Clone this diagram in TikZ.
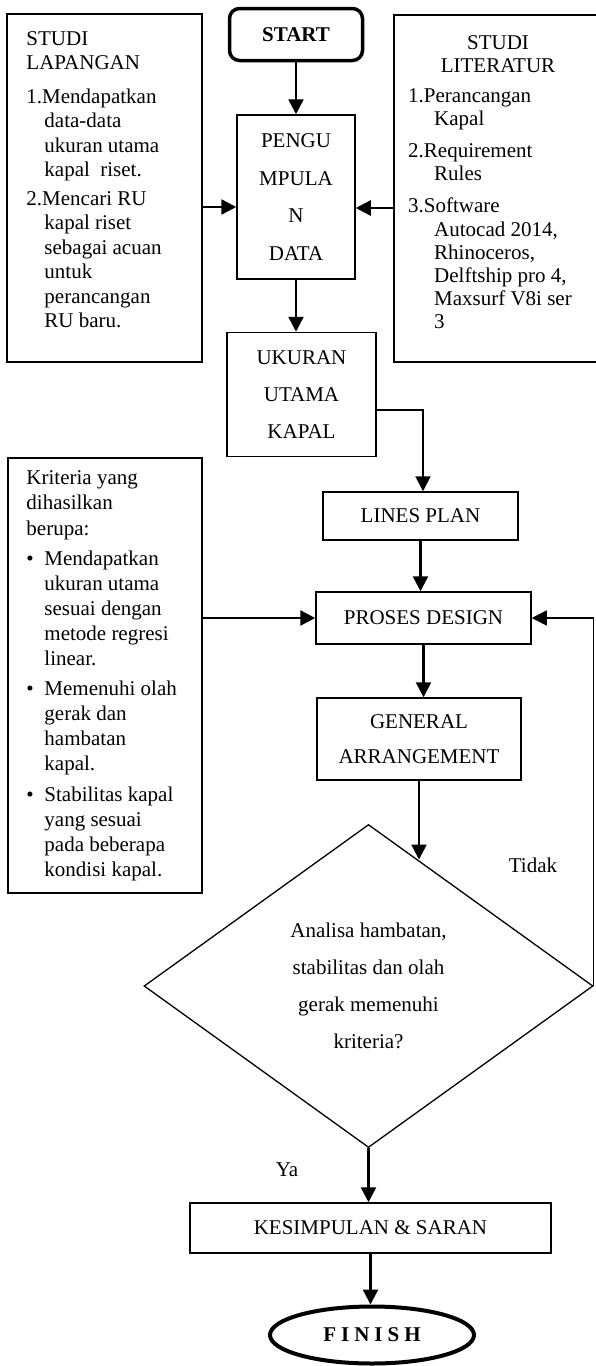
\documentclass[tikz,border=0pt]{standalone}
\usepackage{fontspec}
\setmainfont{Liberation Serif}
\usepackage{tikz}
\usetikzlibrary{positioning,calc,shapes.geometric,arrows.meta}
\newcommand{\indt}{\hspace*{18pt}}
\newcommand{\indl}{\hspace*{26pt}}
\newcommand{\bul}{\makebox[18pt][l]{\textbullet}}

\begin{document}
\begin{tikzpicture}[x=1pt,y=-1pt,font=\fontsize{21}{25}\selectfont]
	\tikzstyle{box}=[draw,line width=1.5pt,inner sep=0pt,align=center]
	\tikzstyle{txt}=[inner sep=0pt,align=left,anchor=north west]
	\tikzstyle{arr}=[-{Triangle[length=15pt,width=15pt]},line width=2.5pt]
	\useasboundingbox (0,0) rectangle (595,1366);
		\node[box,rounded corners=10pt,line width=3.5pt,minimum width=133pt,minimum height=52pt,font=\fontsize{21}{25}\selectfont\bfseries] (start) at (296,34.5) {START};
		\node[box,minimum width=118pt,minimum height=164pt,font=\fontsize{21}{37.5}\selectfont,below=52pt of start] (peng) {PENGU\\MPULA\\N\\DATA};
		\node[box,minimum width=149pt,minimum height=124pt,font=\fontsize{21}{37}\selectfont,below=52pt of peng,xshift=5.5pt] (ukuran) {UKURAN\\UTAMA\\KAPAL};
		\node[box,minimum width=195pt,minimum height=48pt] (lines) at (420.5,516) {LINES PLAN};
		\node[box,minimum width=215pt,minimum height=52pt] (proses) at (423.5,618) {PROSES DESIGN};
		\node[box,minimum width=204pt,minimum height=82pt,font=\fontsize{21}{35}\selectfont] (ga) at (419,739) {GENERAL\\ARRANGEMENT};
		\node[draw,diamond,line width=1.3pt,inner sep=0pt,minimum width=449pt,minimum height=323pt,align=center,font=\fontsize{21}{37}\selectfont] (dia) at (368.5,986) {Analisa hambatan,\\stabilitas dan olah\\gerak memenuhi\\kriteria?};
		\node[box,minimum width=361pt,minimum height=50pt] (kes) at (370.5,1228) {KESIMPULAN \& SARAN};
		\node[box,ellipse,line width=4pt,minimum width=204pt,minimum height=57pt,font=\fontsize{21}{25}\selectfont\bfseries] (fin) at (372,1335) {F\hspace{5pt}I\hspace{5pt}N\hspace{5pt}I\hspace{5pt}S\hspace{5pt}H};
		\node[box,minimum width=195pt,minimum height=348pt] (lap) at (104.5,188) {};
		\node[txt,font=\fontsize{21}{24.5}\selectfont] (laptxt) at ($(lap.north west)+(20,18)$) {STUDI\\LAPANGAN\\[9pt]1.Mendapatkan\\\indt data-data\\\indt ukuran utama\\\indt kapal~ riset.\\[4pt]2.Mencari RU\\\indt kapal riset\\\indt sebagai acuan\\\indt untuk\\\indt perancangan\\\indt RU baru.};
		\node[box,minimum width=216pt,minimum height=347pt] (lit) at (502,188.5) {};
		\node[inner sep=0pt,align=center,anchor=north,font=\fontsize{21}{23}\selectfont] (littitle) at (498,35) {STUDI\\LITERATUR};
		\node[txt,font=\fontsize{21}{23.2}\selectfont] (littxt) at (408,88) {1.Perancangan\\\indl Kapal\\[9pt]2.Requirement\\\indl Rules\\[9pt]3.Software\\\indl Autocad 2014,\\\indl Rhinoceros,\\\indl Delftship pro 4,\\\indl Maxsurf V8i ser\\\indl 3};
		\node[box,minimum width=194pt,minimum height=435pt] (krit) at (105,675.5) {};
		\node[txt,font=\fontsize{21}{25.1}\selectfont] (krittxt) at ($(krit.north west)+(19,13.5)$) {Kriteria yang\\dihasilkan\\berupa:\\[5pt]\bul Mendapatkan\\\indt ukuran utama\\\indt sesuai dengan\\\indt metode regresi\\\indt linear.\\[5pt]\bul Memenuhi olah\\\indt gerak dan\\\indt hambatan\\\indt kapal.\\[5pt]\bul Stabilitas kapal\\\indt yang sesuai\\\indt pada beberapa\\\indt kondisi kapal.};
		\node (tidak) at (533,865) {Tidak};
		\node (ya) at (287,1170) {Ya};
		\coordinate (pl) at ([yshift=-10pt]peng.west);
		\coordinate (pr) at ([yshift=-11pt]peng.east);
		\coordinate (dtop) at ($(dia.north)!0.22!(dia.east)$);
			\draw[arr] (start) -- (peng);
			\draw[arr] (lap.east |- pl) -- (pl);
			\draw[arr] (lit.west |- pr) -- (pr);
			\draw[arr] (peng.south) -- (peng.south |- ukuran.north);
			\draw[arr,line width=2pt] ([yshift=-15pt]ukuran.east) -| ([xshift=2.5pt]lines.north);
			\draw[arr] (lines.south) -- (lines.south |- proses.north);
			\draw[arr] (krit.east |- proses) -- (proses);
			\draw[arr] (proses.south) -- (proses.south |- ga.north);
			\draw[arr] (ga.south) -- (ga.south |- dtop);
			\draw[arr,line width=1.5pt] (dia.east) -- (dia.east |- proses) -- (proses);
			\draw[arr] (dia.south) -- (dia.south |- kes.north);
			\draw[arr] (kes.south) -- (kes.south |- fin.north);
\end{tikzpicture}
\end{document}
